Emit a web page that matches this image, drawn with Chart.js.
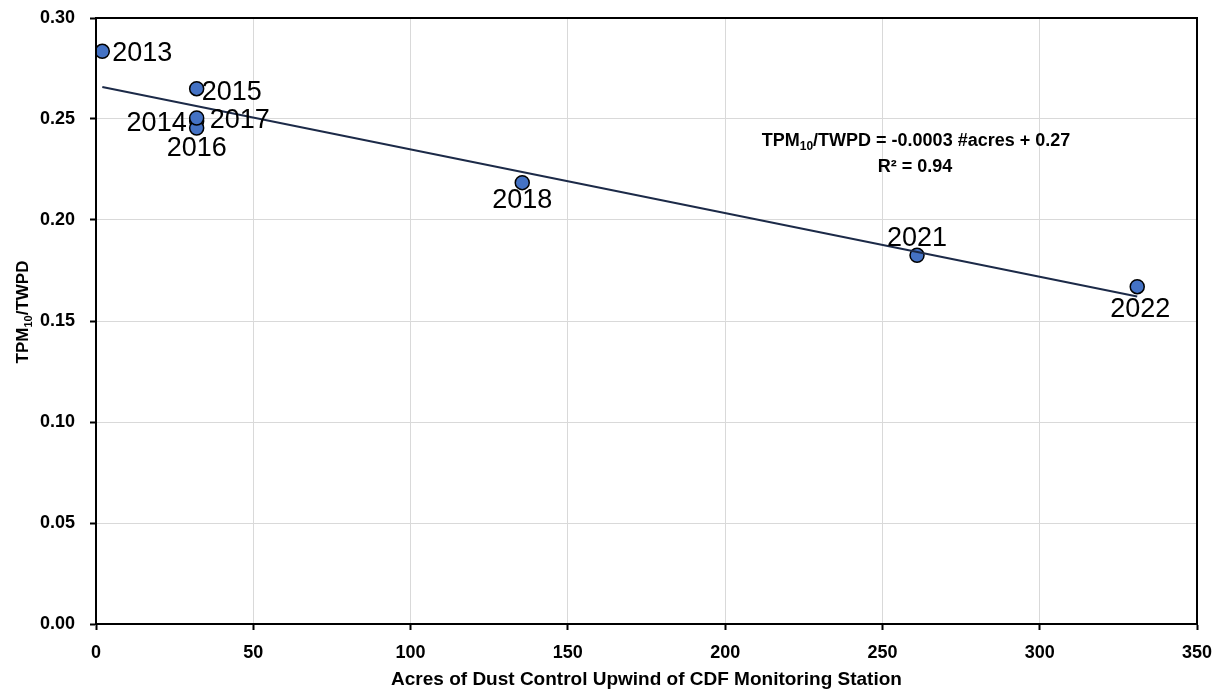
<!DOCTYPE html>
<html>
<head>
<meta charset="utf-8">
<script src="https://cdn.jsdelivr.net/npm/chart.js@4.4.1/dist/chart.umd.min.js"></script>
<style>
  html, body { margin: 0; padding: 0; background: #ffffff; }
  canvas { display: block; }
</style>
</head>
<body>
<canvas id="chart" width="1225" height="695"></canvas>
<script>
// Year of each observation, acres of dust control, and the TPM10/TWPD ratio
const years = ['2013', '2014', '2015', '2016', '2017', '2018', '2021', '2022'];
const acres = [2, 32, 32, 32, 32, 135.5, 261, 331];
const ratio = [0.2835, 0.249, 0.265, 0.2455, 0.2505, 0.2185, 0.1825, 0.167];

// Axis ticks
const xTicks = [0, 50, 100, 150, 200, 250, 300, 350];
const yTicks = [0.00, 0.05, 0.10, 0.15, 0.20, 0.25, 0.30];

const xTitle = 'Acres of Dust Control Upwind of CDF Monitoring Station';

// Where each year label sits relative to its marker: [side, dx, dy]
const labelPlacement = {
  '2013': ['right', 10, 0],
  '2014': ['left', -10, 0],
  '2015': ['right', 5, 2],
  '2016': ['below', 0, 18],
  '2017': ['right', 13, 0],
  '2018': ['below', 0, 16],
  '2021': ['above', 0, -19],
  '2022': ['below', 3, 21]
};

const FONT = '"Liberation Sans", Arial, sans-serif';

// Ordinary least-squares fit of ratio against acres
function linearFit(xs, ys) {
  const n = xs.length;
  const mx = xs.reduce((s, v) => s + v, 0) / n;
  const my = ys.reduce((s, v) => s + v, 0) / n;
  let sxx = 0, sxy = 0, syy = 0;
  for (let i = 0; i < n; i++) {
    const dx = xs[i] - mx, dy = ys[i] - my;
    sxx += dx * dx; sxy += dx * dy; syy += dy * dy;
  }
  const slope = sxy / sxx;
  return { slope, intercept: my - slope * mx, r2: (sxy * sxy) / (sxx * syy) };
}

const fit = linearFit(acres, ratio);
const xMin = Math.min(...acres), xMax = Math.max(...acres);
const trend = [
  { x: xMin, y: fit.intercept + fit.slope * xMin },
  { x: xMax, y: fit.intercept + fit.slope * xMax }
];

// Draws a run of text pieces (some subscripted) centred on cx at the given baseline
function drawRuns(ctx, runs, cx, baseline, size, weight) {
  const main = `${weight} ${size}px ${FONT}`;
  const sub = `${weight} ${Math.round(size * 0.66)}px ${FONT}`;
  let total = 0;
  const widths = runs.map(r => {
    ctx.font = r.sub ? sub : main;
    const w = ctx.measureText(r.t).width;
    total += w;
    return w;
  });
  let x = cx - total / 2;
  ctx.textAlign = 'left';
  ctx.textBaseline = 'alphabetic';
  runs.forEach((r, i) => {
    ctx.font = r.sub ? sub : main;
    ctx.fillText(r.t, x, baseline + (r.sub ? size * 0.24 : 0));
    x += widths[i];
  });
}

const decorations = {
  id: 'decorations',
  afterDraw(chart) {
    const { ctx, chartArea: a, scales: { x, y } } = chart;
    ctx.save();

    // frame around the plot area
    ctx.strokeStyle = '#000';
    ctx.lineWidth = 2;
    ctx.strokeRect(a.left, a.top, a.right - a.left, a.bottom - a.top);

    // year labels beside the markers
    const size = 27;
    ctx.font = `${size}px ${FONT}`;
    ctx.fillStyle = '#000';
    ctx.textBaseline = 'alphabetic';
    const capHalf = size * 0.358;
    years.forEach((yr, i) => {
      const px = x.getPixelForValue(acres[i]);
      const py = y.getPixelForValue(ratio[i]);
      const [side, dx, dy] = labelPlacement[yr];
      ctx.textAlign = side === 'right' ? 'left' : side === 'left' ? 'right' : 'center';
      ctx.fillText(yr, px + dx, py + dy + capHalf);
    });

    // trendline equation and R²
    const eqSize = 18;
    drawRuns(ctx, [
      { t: 'TPM' }, { t: '10', sub: true },
      { t: `/TWPD = ${fit.slope.toFixed(4)} #acres + ${fit.intercept.toFixed(2)}` }
    ], a.left + 820, a.top + 128, eqSize, 'bold');
    drawRuns(ctx, [{ t: `R² = ${fit.r2.toFixed(2)}` }], a.left + 819, a.top + 154, eqSize, 'bold');

    // y-axis title, rotated
    ctx.translate(28, (a.top + a.bottom) / 2 - 9);
    ctx.rotate(-Math.PI / 2);
    drawRuns(ctx, [{ t: 'TPM' }, { t: '10', sub: true }, { t: '/TWPD' }], 0, 0, 17, 'bold');

    ctx.restore();
  }
};

new Chart(document.getElementById('chart'), {
  type: 'scatter',
  data: {
    datasets: [
      {
        label: 'TPM10/TWPD',
        data: acres.map((v, i) => ({ x: v, y: ratio[i] })),
        backgroundColor: '#4472C4',
        borderColor: '#000000',
        borderWidth: 1.5,
        pointRadius: 7,
        pointHoverRadius: 7,
        order: 2
      },
      {
        label: 'Linear fit',
        type: 'line',
        data: trend,
        borderColor: '#1c2a48',
        borderWidth: 2,
        pointRadius: 0,
        fill: false,
        order: 1
      }
    ]
  },
  options: {
    responsive: false,
    animation: false,
    events: [],
    layout: { padding: { top: 18, right: 28, left: 0, bottom: 0 } },
    plugins: {
      legend: { display: false },
      tooltip: { enabled: false }
    },
    scales: {
      x: {
        type: 'linear',
        min: 0,
        max: 350,
        afterBuildTicks: s => { s.ticks = xTicks.map(v => ({ value: v })); },
        afterFit: s => { s.height = 71; s.paddingLeft = 0; s.paddingRight = 0; },
        ticks: {
          color: '#000',
          font: { family: FONT, size: 18, weight: 'bold' },
          padding: 12,
          maxRotation: 0,
          callback: v => String(v)
        },
        grid: {
          color: '#d9d9d9',
          lineWidth: 1,
          tickColor: '#000',
          tickLength: 6,
          tickWidth: 2
        },
        border: { color: '#000', width: 2 },
        title: {
          display: true,
          text: xTitle,
          color: '#000',
          font: { family: FONT, size: 19, weight: 'bold' },
          padding: { top: 0, bottom: 3.6 }
        }
      },
      y: {
        type: 'linear',
        min: 0,
        max: 0.30,
        afterBuildTicks: s => { s.ticks = yTicks.map(v => ({ value: v })); },
        afterFit: s => { s.width = 96; s.paddingTop = 0; s.paddingBottom = 0; },
        ticks: {
          color: '#000',
          font: { family: FONT, size: 18, weight: 'bold' },
          padding: 15,
          callback: v => Number(v).toFixed(2)
        },
        grid: {
          color: '#d9d9d9',
          lineWidth: 1,
          tickColor: '#000',
          tickLength: 6,
          tickWidth: 2
        },
        border: { color: '#000', width: 2 }
      }
    }
  },
  plugins: [decorations]
});
</script>
</body>
</html>
